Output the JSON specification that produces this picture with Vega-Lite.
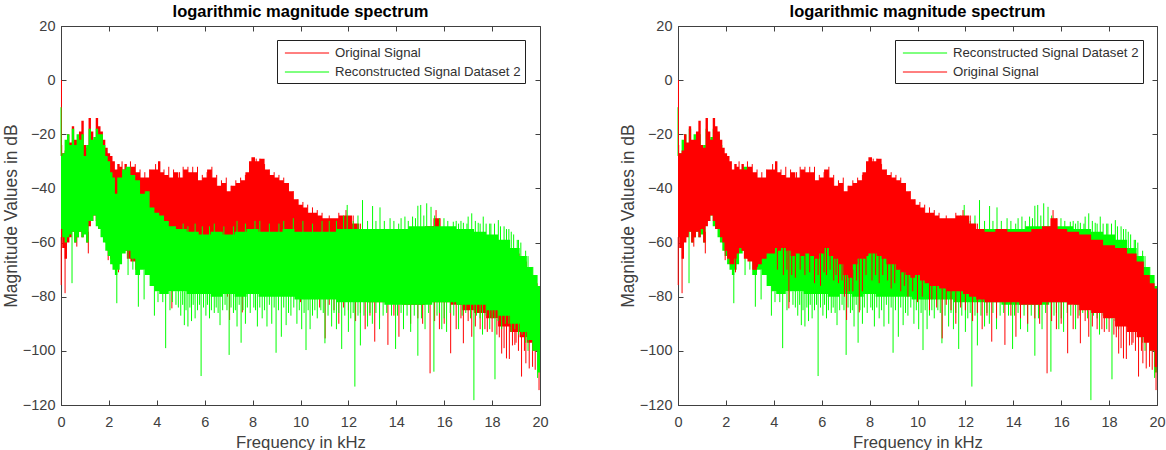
{
"$schema":"https://vega.github.io/schema/vega-lite/v6.json",
"padding":{"left":1,"top":3,"right":0,"bottom":0},
"background":"white",
"spacing":69,
"config":{"view":{"stroke":"#404040","strokeWidth":1},"font":"Liberation Sans",
"axis":{"grid":false,"tickSize":-5,"tickColor":"#404040","domainColor":"#404040","labelColor":"#404040","titleColor":"#404040","labelFont":"Liberation Sans","titleFont":"Liberation Sans","labelFontSize":14.5,"titleFontWeight":"normal","labelFlush":false,"labelOverlap":false},
"title":{"font":"Liberation Sans","fontSize":16.5,"fontWeight":"bold","color":"#000000","offset":-2},
"legend":{"orient":"none","labelFont":"Liberation Sans","labelFontSize":13.2,"labelColor":"#303030","strokeColor":"#202020","fillColor":"white","padding":4,"title":null,"symbolType":"M-2.6,0H2.6","symbolSize":289,"symbolStrokeWidth":1,"symbolFillColor":"transparent","symbolOffset":17,"labelOffset":19,"rowPadding":3,"labelLimit":300}},
"datasets":{
"origEnv":[{"f":0,"hi":-24,"lo":-58},{"f":0.1,"hi":-27,"lo":-62},{"f":0.2,"hi":-26,"lo":-66},{"f":0.3,"hi":-20,"lo":-60},{"f":0.4,"hi":-23,"lo":-58},{"f":0.5,"hi":-17,"lo":-56},{"f":0.6,"hi":-22,"lo":-60},{"f":0.7,"hi":-22,"lo":-58},{"f":0.8,"hi":-19,"lo":-56},{"f":0.9,"hi":-15,"lo":-58},{"f":1,"hi":-24,"lo":-55},{"f":1.1,"hi":-25,"lo":-60},{"f":1.2,"hi":-14,"lo":-54},{"f":1.3,"hi":-19,"lo":-52},{"f":1.4,"hi":-22,"lo":-50},{"f":1.5,"hi":-14,"lo":-52},{"f":1.6,"hi":-17,"lo":-55},{"f":1.7,"hi":-19,"lo":-55},{"f":1.8,"hi":-22,"lo":-58},{"f":1.9,"hi":-25,"lo":-60},{"f":2,"hi":-27,"lo":-63},{"f":2.1,"hi":-28,"lo":-66},{"f":2.2,"hi":-30,"lo":-68},{"f":2.3,"hi":-33,"lo":-68},{"f":2.4,"hi":-31,"lo":-66},{"f":2.5,"hi":-32,"lo":-64},{"f":2.6,"hi":-33,"lo":-62},{"f":2.7,"hi":-31,"lo":-63},{"f":2.8,"hi":-33,"lo":-66},{"f":3,"hi":-32,"lo":-67},{"f":3.2,"hi":-34,"lo":-70},{"f":3.4,"hi":-36,"lo":-68},{"f":3.6,"hi":-36,"lo":-66},{"f":3.8,"hi":-33,"lo":-64},{"f":4,"hi":-33,"lo":-64},{"f":4.1,"hi":-30,"lo":-62},{"f":4.2,"hi":-34,"lo":-63},{"f":4.4,"hi":-35,"lo":-62},{"f":4.6,"hi":-36,"lo":-63},{"f":4.8,"hi":-34,"lo":-65},{"f":5,"hi":-36,"lo":-64},{"f":5.2,"hi":-33,"lo":-65},{"f":5.4,"hi":-34,"lo":-64},{"f":5.6,"hi":-34,"lo":-65},{"f":5.8,"hi":-37,"lo":-66},{"f":6,"hi":-36,"lo":-64},{"f":6.2,"hi":-33,"lo":-62},{"f":6.4,"hi":-36,"lo":-65},{"f":6.6,"hi":-39,"lo":-66},{"f":6.8,"hi":-38,"lo":-68},{"f":7,"hi":-41,"lo":-72},{"f":7.2,"hi":-39,"lo":-73},{"f":7.4,"hi":-38,"lo":-68},{"f":7.6,"hi":-37,"lo":-66},{"f":7.8,"hi":-34,"lo":-66},{"f":7.9,"hi":-30,"lo":-65},{"f":8,"hi":-28.5,"lo":-64},{"f":8.2,"hi":-30,"lo":-64},{"f":8.4,"hi":-29,"lo":-65},{"f":8.6,"hi":-33,"lo":-66},{"f":8.8,"hi":-35,"lo":-68},{"f":9,"hi":-36,"lo":-68},{"f":9.2,"hi":-37,"lo":-70},{"f":9.4,"hi":-38,"lo":-71},{"f":9.6,"hi":-41,"lo":-72},{"f":9.8,"hi":-44,"lo":-73},{"f":10,"hi":-46,"lo":-72},{"f":10.2,"hi":-47,"lo":-74},{"f":10.4,"hi":-49,"lo":-75},{"f":10.6,"hi":-49,"lo":-76},{"f":10.8,"hi":-50,"lo":-76},{"f":11,"hi":-51,"lo":-77},{"f":11.4,"hi":-51,"lo":-78},{"f":11.8,"hi":-50,"lo":-78},{"f":12,"hi":-50,"lo":-79},{"f":12.3,"hi":-53,"lo":-80},{"f":12.6,"hi":-55,"lo":-81},{"f":13,"hi":-56,"lo":-82},{"f":13.5,"hi":-55,"lo":-82},{"f":14,"hi":-56,"lo":-82},{"f":14.5,"hi":-56,"lo":-83},{"f":15,"hi":-55,"lo":-83},{"f":15.4,"hi":-54,"lo":-82},{"f":15.7,"hi":-51,"lo":-82},{"f":16,"hi":-55,"lo":-82},{"f":16.5,"hi":-56,"lo":-83},{"f":17,"hi":-57,"lo":-85},{"f":17.5,"hi":-59,"lo":-86},{"f":18,"hi":-61,"lo":-88},{"f":18.5,"hi":-62,"lo":-91},{"f":19,"hi":-64,"lo":-93},{"f":19.3,"hi":-67,"lo":-95},{"f":19.6,"hi":-72,"lo":-97},{"f":19.8,"hi":-75,"lo":-100},{"f":20,"hi":-77,"lo":-106}],
"reconEnv":[{"f":0,"hi":-28,"lo":-55},{"f":0.1,"hi":-27,"lo":-58},{"f":0.2,"hi":-22,"lo":-60},{"f":0.3,"hi":-20,"lo":-58},{"f":0.4,"hi":-24,"lo":-57},{"f":0.5,"hi":-18,"lo":-56},{"f":0.6,"hi":-24,"lo":-60},{"f":0.7,"hi":-20,"lo":-58},{"f":0.8,"hi":-22,"lo":-56},{"f":0.9,"hi":-20,"lo":-58},{"f":1,"hi":-28,"lo":-57},{"f":1.1,"hi":-24,"lo":-60},{"f":1.2,"hi":-18,"lo":-52},{"f":1.3,"hi":-22,"lo":-52},{"f":1.4,"hi":-21,"lo":-50},{"f":1.5,"hi":-18,"lo":-54},{"f":1.6,"hi":-20,"lo":-55},{"f":1.7,"hi":-20,"lo":-58},{"f":1.8,"hi":-24,"lo":-60},{"f":1.9,"hi":-28,"lo":-63},{"f":2,"hi":-30,"lo":-65},{"f":2.1,"hi":-34,"lo":-68},{"f":2.2,"hi":-36,"lo":-70},{"f":2.3,"hi":-42,"lo":-72},{"f":2.4,"hi":-36,"lo":-70},{"f":2.5,"hi":-36,"lo":-68},{"f":2.6,"hi":-33,"lo":-64},{"f":2.8,"hi":-32,"lo":-63},{"f":3,"hi":-35,"lo":-66},{"f":3.2,"hi":-37,"lo":-72},{"f":3.4,"hi":-42,"lo":-70},{"f":3.6,"hi":-41,"lo":-72},{"f":3.8,"hi":-47,"lo":-76},{"f":4,"hi":-49,"lo":-78},{"f":4.2,"hi":-50,"lo":-79},{"f":4.4,"hi":-52,"lo":-79},{"f":4.6,"hi":-54,"lo":-78},{"f":5,"hi":-55,"lo":-78},{"f":5.5,"hi":-56,"lo":-79},{"f":6,"hi":-57,"lo":-79},{"f":6.5,"hi":-56,"lo":-80},{"f":7,"hi":-57,"lo":-79},{"f":7.5,"hi":-56,"lo":-80},{"f":8,"hi":-55,"lo":-79},{"f":8.5,"hi":-56,"lo":-80},{"f":9,"hi":-56,"lo":-80},{"f":9.5,"hi":-55,"lo":-80},{"f":10,"hi":-56,"lo":-81},{"f":11,"hi":-56,"lo":-81},{"f":12,"hi":-55,"lo":-82},{"f":13,"hi":-55,"lo":-82},{"f":14,"hi":-55,"lo":-83},{"f":15,"hi":-54,"lo":-83},{"f":16,"hi":-54,"lo":-82},{"f":17,"hi":-55,"lo":-83},{"f":17.5,"hi":-56,"lo":-83},{"f":18,"hi":-57,"lo":-85},{"f":18.5,"hi":-59,"lo":-87},{"f":19,"hi":-62,"lo":-90},{"f":19.3,"hi":-65,"lo":-93},{"f":19.6,"hi":-69,"lo":-96},{"f":19.8,"hi":-72,"lo":-100},{"f":20,"hi":-76,"lo":-108}],
"origSpikes":[{"f":0.02,"hi":0,"lo":-25},{"f":0.01,"hi":-58,"lo":-75.7},{"f":0.17,"hi":-62,"lo":-78.7},{"f":0.66,"hi":-56,"lo":-61.5},{"f":1.14,"hi":-56,"lo":-64},{"f":1.97,"hi":-60,"lo":-66.5},{"f":2.4,"hi":-66,"lo":-71},{"f":3.16,"hi":-67,"lo":-70},{"f":3.32,"hi":-67,"lo":-69},{"f":4.4,"hi":-62,"lo":-72},{"f":4.63,"hi":-63,"lo":-84.3},{"f":4.9,"hi":-64,"lo":-73},{"f":5.3,"hi":-64,"lo":-72},{"f":5.7,"hi":-65,"lo":-75},{"f":5.95,"hi":-64,"lo":-76},{"f":6.2,"hi":-62,"lo":-72},{"f":6.5,"hi":-65,"lo":-74},{"f":6.7,"hi":-66,"lo":-75},{"f":6.95,"hi":-68,"lo":-80},{"f":7.04,"hi":-70,"lo":-88.6},{"f":7.3,"hi":-70,"lo":-78},{"f":7.57,"hi":-66,"lo":-85.8},{"f":7.7,"hi":-66,"lo":-78},{"f":8.1,"hi":-64,"lo":-74},{"f":8.4,"hi":-65,"lo":-75},{"f":8.9,"hi":-68,"lo":-77},{"f":9.3,"hi":-70,"lo":-78},{"f":9.6,"hi":-72,"lo":-80},{"f":10,"hi":-72,"lo":-82},{"f":10.5,"hi":-75,"lo":-85},{"f":11.03,"hi":-77,"lo":-95.4},{"f":11.6,"hi":-78,"lo":-90},{"f":12.3,"hi":-80,"lo":-89},{"f":12.7,"hi":-81,"lo":-92},{"f":13.1,"hi":-82,"lo":-96.6},{"f":13.65,"hi":-82,"lo":-97.8},{"f":14.11,"hi":-82,"lo":-94.8},{"f":14.6,"hi":-83,"lo":-90},{"f":15.41,"hi":-82,"lo":-108.3},{"f":15.8,"hi":-82,"lo":-92},{"f":16.27,"hi":-82,"lo":-100.9},{"f":16.5,"hi":-83,"lo":-92},{"f":16.8,"hi":-83,"lo":-97.2},{"f":17.15,"hi":-85,"lo":-94.8},{"f":17.5,"hi":-86,"lo":-92},{"f":17.8,"hi":-86,"lo":-93},{"f":18.2,"hi":-88,"lo":-94},{"f":18.4,"hi":-88,"lo":-101},{"f":18.5,"hi":-90,"lo":-99},{"f":18.6,"hi":-90,"lo":-102.8},{"f":18.72,"hi":-90,"lo":-103},{"f":18.85,"hi":-91,"lo":-98},{"f":18.95,"hi":-91,"lo":-97.8},{"f":19.1,"hi":-93,"lo":-100},{"f":19.23,"hi":-93,"lo":-109.5},{"f":19.41,"hi":-95,"lo":-104.6},{"f":19.55,"hi":-95,"lo":-106.5},{"f":19.69,"hi":-97,"lo":-105.9},{"f":19.8,"hi":-100,"lo":-107},{"f":19.96,"hi":-104,"lo":-114.5},
{"f":2.55,"hi":-30,"lo":-40},{"f":2.9,"hi":-30,"lo":-40},{"f":3.1,"hi":-31,"lo":-40},{"f":3.3,"hi":-33,"lo":-40},{"f":3.5,"hi":-34,"lo":-40},{"f":3.7,"hi":-33,"lo":-40},{"f":3.95,"hi":-31,"lo":-40},{"f":4.3,"hi":-33,"lo":-40},{"f":4.5,"hi":-32,"lo":-40},{"f":4.7,"hi":-33,"lo":-40},{"f":4.95,"hi":-34,"lo":-40},{"f":5.1,"hi":-32,"lo":-40},{"f":5.3,"hi":-32,"lo":-40},{"f":5.5,"hi":-32,"lo":-40},{"f":5.7,"hi":-32,"lo":-40},{"f":5.9,"hi":-35,"lo":-40},{"f":6.1,"hi":-34,"lo":-40},{"f":6.3,"hi":-32,"lo":-40},{"f":6.5,"hi":-35,"lo":-40},{"f":6.7,"hi":-37,"lo":-42},{"f":6.9,"hi":-36,"lo":-42},{"f":7.1,"hi":-39,"lo":-44},{"f":7.3,"hi":-37,"lo":-42},{"f":7.5,"hi":-36,"lo":-42},{"f":7.7,"hi":-35,"lo":-42},{"f":8.15,"hi":-29,"lo":-40},{"f":8.3,"hi":-29,"lo":-40},{"f":8.5,"hi":-31,"lo":-40},{"f":8.7,"hi":-33,"lo":-40},{"f":8.9,"hi":-34,"lo":-40},{"f":9.1,"hi":-35,"lo":-40},{"f":9.3,"hi":-36,"lo":-42},{"f":9.5,"hi":-38,"lo":-44},{"f":9.7,"hi":-41,"lo":-46},{"f":9.9,"hi":-44,"lo":-50},{"f":10.1,"hi":-45,"lo":-50},{"f":10.3,"hi":-46,"lo":-52},{"f":10.5,"hi":-47,"lo":-52},{"f":10.7,"hi":-48,"lo":-54},{"f":10.9,"hi":-49,"lo":-54},{"f":11.2,"hi":-50,"lo":-54},{"f":11.6,"hi":-49,"lo":-54},{"f":11.9,"hi":-48,"lo":-54},{"f":12.2,"hi":-50,"lo":-56},{"f":12.5,"hi":-53,"lo":-58},{"f":15.66,"hi":-48,"lo":-58},
{"f":4.15,"hi":-62,"lo":-70},{"f":4.55,"hi":-62,"lo":-70},{"f":4.75,"hi":-62,"lo":-72},{"f":5.1,"hi":-62,"lo":-70},{"f":5.5,"hi":-62,"lo":-71},{"f":5.85,"hi":-62,"lo":-72},{"f":6.1,"hi":-62,"lo":-71},{"f":6.35,"hi":-62,"lo":-70},{"f":6.6,"hi":-62,"lo":-72},{"f":6.85,"hi":-62,"lo":-74},{"f":7.15,"hi":-62,"lo":-78},{"f":7.45,"hi":-62,"lo":-74},{"f":7.85,"hi":-62,"lo":-72},{"f":8.25,"hi":-62,"lo":-72},{"f":8.55,"hi":-62,"lo":-72},{"f":8.75,"hi":-62,"lo":-74},{"f":9.05,"hi":-62,"lo":-75},{"f":9.45,"hi":-62,"lo":-76},{"f":9.8,"hi":-62,"lo":-78},{"f":10.2,"hi":-70,"lo":-80},{"f":10.6,"hi":-70,"lo":-81},{"f":10.8,"hi":-70,"lo":-84},{"f":11.2,"hi":-70,"lo":-83},{"f":11.4,"hi":-70,"lo":-85},{"f":11.8,"hi":-70,"lo":-84},{"f":12,"hi":-70,"lo":-85},{"f":12.5,"hi":-70,"lo":-86},{"f":12.9,"hi":-70,"lo":-87},{"f":13.3,"hi":-70,"lo":-88},{"f":13.9,"hi":-70,"lo":-87},{"f":14.3,"hi":-70,"lo":-88},{"f":14.9,"hi":-70,"lo":-88},{"f":15.1,"hi":-70,"lo":-90},{"f":15.6,"hi":-70,"lo":-89},{"f":16,"hi":-70,"lo":-90},{"f":16.7,"hi":-70,"lo":-88},{"f":17,"hi":-70,"lo":-89},{"f":17.3,"hi":-70,"lo":-91},{"f":17.7,"hi":-70,"lo":-92},{"f":18,"hi":-70,"lo":-93},{"f":18.3,"hi":-70,"lo":-95},{"f":19,"hi":-80,"lo":-97},{"f":19.35,"hi":-80,"lo":-100}],
"reconSpikes":[{"f":0,"hi":-10,"lo":-28},{"f":0.46,"hi":-56,"lo":-75},{"f":2.33,"hi":-70,"lo":-82.4},{"f":2.8,"hi":-63,"lo":-72},{"f":3,"hi":-66,"lo":-70},{"f":3.23,"hi":-70,"lo":-83.7},{"f":3.47,"hi":-70,"lo":-81},{"f":3.75,"hi":-72,"lo":-75},{"f":3.9,"hi":-76,"lo":-87},{"f":4.05,"hi":-78,"lo":-82},{"f":4.25,"hi":-78,"lo":-82},{"f":4.37,"hi":-78,"lo":-99},{"f":4.55,"hi":-78,"lo":-85},{"f":4.8,"hi":-78,"lo":-83},{"f":5,"hi":-78,"lo":-87},{"f":5.15,"hi":-78,"lo":-90.5},{"f":5.3,"hi":-78,"lo":-91},{"f":5.45,"hi":-78,"lo":-89},{"f":5.6,"hi":-78,"lo":-88},{"f":5.85,"hi":-78,"lo":-109.3},{"f":6.05,"hi":-78,"lo":-87},{"f":6.2,"hi":-78,"lo":-88},{"f":6.4,"hi":-78,"lo":-86},{"f":6.64,"hi":-78,"lo":-90.5},{"f":6.75,"hi":-78,"lo":-85},{"f":7.02,"hi":-78,"lo":-101.5},{"f":7.2,"hi":-78,"lo":-86},{"f":7.35,"hi":-78,"lo":-91},{"f":7.52,"hi":-78,"lo":-97},{"f":7.7,"hi":-78,"lo":-90},{"f":7.9,"hi":-78,"lo":-86},{"f":8.2,"hi":-78,"lo":-91},{"f":8.4,"hi":-78,"lo":-88},{"f":8.6,"hi":-78,"lo":-91},{"f":8.8,"hi":-78,"lo":-90},{"f":8.98,"hi":-78,"lo":-100.7},{"f":9.2,"hi":-78,"lo":-94.8},{"f":9.4,"hi":-78,"lo":-90.5},{"f":9.6,"hi":-78,"lo":-87},{"f":9.85,"hi":-78,"lo":-90},{"f":10.05,"hi":-78,"lo":-92},{"f":10.23,"hi":-78,"lo":-99.7},{"f":10.4,"hi":-78,"lo":-92},{"f":10.7,"hi":-78,"lo":-88},{"f":11.02,"hi":-78,"lo":-97.2},{"f":11.3,"hi":-78,"lo":-91},{"f":11.5,"hi":-78,"lo":-92},{"f":11.72,"hi":-78,"lo":-99.3},{"f":12,"hi":-78,"lo":-93},{"f":12.27,"hi":-78,"lo":-113.2},{"f":12.5,"hi":-78,"lo":-98},{"f":12.8,"hi":-78,"lo":-91},{"f":13,"hi":-78,"lo":-90},{"f":13.3,"hi":-78,"lo":-92},{"f":13.97,"hi":-78,"lo":-99.3},{"f":14.3,"hi":-78,"lo":-92},{"f":14.6,"hi":-78,"lo":-93},{"f":14.9,"hi":-78,"lo":-101.8},{"f":15.2,"hi":-78,"lo":-92},{"f":15.57,"hi":-78,"lo":-107.7},{"f":15.9,"hi":-78,"lo":-92},{"f":16.1,"hi":-78,"lo":-93},{"f":16.6,"hi":-78,"lo":-92},{"f":17.24,"hi":-78,"lo":-118.2},{"f":17.6,"hi":-80,"lo":-94},{"f":17.9,"hi":-80,"lo":-92},{"f":18.12,"hi":-80,"lo":-110.5},{"f":18.4,"hi":-85,"lo":-92},{"f":18.8,"hi":-85,"lo":-93},{"f":19.1,"hi":-88,"lo":-94},{"f":19.5,"hi":-92,"lo":-100},{"f":19.9,"hi":-100,"lo":-110},{"f":11.95,"hi":-46.1,"lo":-60},{"f":12.59,"hi":-44.3,"lo":-60},{"f":13.01,"hi":-46.5,"lo":-60},{"f":13.32,"hi":-47,"lo":-60},{"f":13.74,"hi":-51,"lo":-60},{"f":14.36,"hi":-50.4,"lo":-60},{"f":14.68,"hi":-50.4,"lo":-60},{"f":14.9,"hi":-46.4,"lo":-60},{"f":15.02,"hi":-46.1,"lo":-60},{"f":15.27,"hi":-45.5,"lo":-60},{"f":15.45,"hi":-46.8,"lo":-60},{"f":15.99,"hi":-51,"lo":-60},{"f":16.38,"hi":-52.3,"lo":-60},{"f":16.8,"hi":-52.7,"lo":-60},{"f":17,"hi":-50.4,"lo":-60},{"f":17.15,"hi":-49.2,"lo":-60},{"f":17.42,"hi":-52.7,"lo":-60},{"f":17.63,"hi":-50.4,"lo":-60},{"f":18.26,"hi":-51.7,"lo":-60},{"f":12.8,"hi":-52,"lo":-60},{"f":13.5,"hi":-52,"lo":-60},{"f":14.1,"hi":-53,"lo":-60},{"f":14.5,"hi":-52,"lo":-60},{"f":16.6,"hi":-53,"lo":-60},{"f":17.9,"hi":-53,"lo":-60},{"f":18.5,"hi":-54,"lo":-62},{"f":18.8,"hi":-56,"lo":-62},{"f":19.1,"hi":-59,"lo":-65},
{"f":4.65,"hi":-70,"lo":-82},{"f":4.9,"hi":-70,"lo":-84},{"f":5.08,"hi":-70,"lo":-83},{"f":5.22,"hi":-70,"lo":-85},{"f":5.38,"hi":-70,"lo":-84},{"f":5.52,"hi":-70,"lo":-83},{"f":5.7,"hi":-70,"lo":-85},{"f":5.78,"hi":-70,"lo":-83},{"f":5.95,"hi":-70,"lo":-84},{"f":6.12,"hi":-70,"lo":-83},{"f":6.28,"hi":-70,"lo":-85},{"f":6.48,"hi":-70,"lo":-84},{"f":6.56,"hi":-70,"lo":-86},{"f":6.85,"hi":-70,"lo":-83},{"f":6.93,"hi":-70,"lo":-85},{"f":7.1,"hi":-70,"lo":-84},{"f":7.28,"hi":-70,"lo":-85},{"f":7.44,"hi":-70,"lo":-83},{"f":7.6,"hi":-70,"lo":-85},{"f":7.78,"hi":-70,"lo":-84},{"f":8.05,"hi":-70,"lo":-84},{"f":8.12,"hi":-70,"lo":-85},{"f":8.3,"hi":-70,"lo":-84},{"f":8.5,"hi":-70,"lo":-85},{"f":8.7,"hi":-70,"lo":-83},{"f":8.9,"hi":-70,"lo":-84},{"f":9.08,"hi":-70,"lo":-85},{"f":9.3,"hi":-70,"lo":-84},{"f":9.5,"hi":-70,"lo":-86},{"f":9.72,"hi":-70,"lo":-84},{"f":9.95,"hi":-70,"lo":-85},{"f":10.15,"hi":-70,"lo":-86},{"f":10.32,"hi":-70,"lo":-85},{"f":10.5,"hi":-70,"lo":-87},{"f":10.6,"hi":-70,"lo":-85},{"f":10.85,"hi":-70,"lo":-85},{"f":10.95,"hi":-70,"lo":-86},{"f":11.15,"hi":-70,"lo":-87},{"f":11.4,"hi":-70,"lo":-86},{"f":11.6,"hi":-70,"lo":-86},{"f":11.85,"hi":-70,"lo":-87},{"f":12.1,"hi":-70,"lo":-88},{"f":12.2,"hi":-70,"lo":-86},{"f":12.4,"hi":-70,"lo":-87},{"f":12.65,"hi":-70,"lo":-87},{"f":12.9,"hi":-70,"lo":-86},{"f":13.15,"hi":-70,"lo":-86},{"f":13.45,"hi":-70,"lo":-87},{"f":13.6,"hi":-70,"lo":-86},{"f":13.8,"hi":-70,"lo":-87},{"f":14.05,"hi":-70,"lo":-87},{"f":14.2,"hi":-70,"lo":-86},{"f":14.45,"hi":-70,"lo":-87},{"f":14.75,"hi":-70,"lo":-87},{"f":15.05,"hi":-70,"lo":-88},{"f":15.35,"hi":-70,"lo":-86},{"f":15.7,"hi":-70,"lo":-87},{"f":15.8,"hi":-70,"lo":-86},{"f":16,"hi":-70,"lo":-88},{"f":16.25,"hi":-70,"lo":-86},{"f":16.4,"hi":-70,"lo":-87},{"f":16.75,"hi":-70,"lo":-87},{"f":16.9,"hi":-70,"lo":-86},{"f":17.1,"hi":-70,"lo":-88},{"f":17.35,"hi":-70,"lo":-87},{"f":17.5,"hi":-70,"lo":-88},{"f":17.75,"hi":-70,"lo":-87},{"f":18,"hi":-70,"lo":-88},{"f":18.25,"hi":-70,"lo":-89},{"f":18.55,"hi":-70,"lo":-90},{"f":18.7,"hi":-70,"lo":-90},{"f":18.95,"hi":-80,"lo":-92},{"f":19.25,"hi":-80,"lo":-94},{"f":19.4,"hi":-80,"lo":-97},{"f":19.7,"hi":-80,"lo":-100},
{"f":5.1,"hi":-53,"lo":-60},{"f":5.3,"hi":-54,"lo":-60},{"f":5.6,"hi":-53,"lo":-60},{"f":5.9,"hi":-54,"lo":-60},{"f":6.2,"hi":-54,"lo":-60},{"f":6.4,"hi":-53,"lo":-60},{"f":6.8,"hi":-54,"lo":-60},{"f":7.2,"hi":-54,"lo":-60},{"f":7.35,"hi":-52,"lo":-60},{"f":7.7,"hi":-53,"lo":-60},{"f":8.1,"hi":-52,"lo":-60},{"f":8.3,"hi":-52,"lo":-60},{"f":8.7,"hi":-53,"lo":-60},{"f":9.1,"hi":-53,"lo":-60},{"f":9.3,"hi":-52,"lo":-60},{"f":9.7,"hi":-51,"lo":-60},{"f":10.1,"hi":-52,"lo":-60},{"f":10.5,"hi":-53,"lo":-60},{"f":10.9,"hi":-52,"lo":-60},{"f":11.2,"hi":-52,"lo":-60},{"f":11.5,"hi":-52,"lo":-60},{"f":11.8,"hi":-50,"lo":-60},{"f":12.2,"hi":-52,"lo":-60},{"f":12.4,"hi":-50,"lo":-60},{"f":13.15,"hi":-52,"lo":-60},{"f":13.9,"hi":-52,"lo":-60},{"f":14.2,"hi":-51,"lo":-60},{"f":14.8,"hi":-51,"lo":-60},{"f":15.15,"hi":-50,"lo":-60},{"f":15.6,"hi":-50,"lo":-60},{"f":15.8,"hi":-51,"lo":-60},{"f":16.15,"hi":-52,"lo":-60},{"f":16.5,"hi":-52,"lo":-60},{"f":16.7,"hi":-52,"lo":-60},{"f":16.95,"hi":-53,"lo":-60},{"f":17.3,"hi":-52,"lo":-60},{"f":17.5,"hi":-53,"lo":-60},{"f":17.75,"hi":-53,"lo":-60},{"f":17.95,"hi":-53,"lo":-60},{"f":18.1,"hi":-53,"lo":-60},{"f":18.35,"hi":-54,"lo":-60},{"f":18.6,"hi":-55,"lo":-62},{"f":18.7,"hi":-55,"lo":-62},{"f":18.9,"hi":-57,"lo":-64},{"f":19.05,"hi":-59,"lo":-66},{"f":19.2,"hi":-60,"lo":-68},{"f":19.4,"hi":-63,"lo":-70},{"f":19.5,"hi":-65,"lo":-72},{"f":19.7,"hi":-69,"lo":-76}]
},
"hconcat":[
{"width":479,"height":379,"title":"logarithmic magnitude spectrum",
"resolve":{"axis":{"x":"independent","y":"independent"}},
"layer":[
{"encoding":{
"x":{"field":"f","type":"quantitative","scale":{"domain":[0,20],"nice":false},"axis":{"values":[0,2,4,6,8,10,12,14,16,18,20],"title":"Frequency in kHz","titlePadding":6,"labelPadding":15,"titleFontSize":16.7}},
"y":{"field":"hi","type":"quantitative","scale":{"domain":[-120,20],"nice":false},"axis":{"values":[-120,-100,-80,-60,-40,-20,0,20],"title":"Magnitude Values in dB","titlePadding":2,"labelPadding":11,"titleFontSize":17.5}},
"y2":{"field":"lo"}},
"layer":[
{"data":{"name":"origEnv"},"mark":{"type":"area","interpolate":"step","color":"#ff0000"}},
{"data":{"name":"origSpikes"},"mark":{"type":"rule","strokeWidth":1},"encoding":{"color":{"datum":"Original Signal","type":"nominal","scale":{"domain":["Original Signal","Reconstructed Signal Dataset 2"],"range":["#ff0000","#00ff00"]},"legend":{"legendX":216,"legendY":14}}}},
{"data":{"name":"reconEnv"},"mark":{"type":"area","interpolate":"step","color":"#00ff00"}},
{"data":{"name":"reconSpikes"},"mark":{"type":"rule","strokeWidth":1},"encoding":{"color":{"datum":"Reconstructed Signal Dataset 2","type":"nominal"}}}
]},
{"data":{"name":"reconEnv"},"mark":{"type":"rule","opacity":0},"encoding":{
"x":{"field":"f","type":"quantitative","axis":{"orient":"top","values":[0,2,4,6,8,10,12,14,16,18,20],"labels":false,"title":null,"domain":false}},
"y":{"field":"hi","type":"quantitative","axis":{"orient":"right","values":[-120,-100,-80,-60,-40,-20,0,20],"labels":false,"title":null,"domain":false}}}}
]},
{"width":479,"height":379,"title":"logarithmic magnitude spectrum",
"resolve":{"axis":{"x":"independent","y":"independent"}},
"layer":[
{"encoding":{
"x":{"field":"f","type":"quantitative","scale":{"domain":[0,20],"nice":false},"axis":{"values":[0,2,4,6,8,10,12,14,16,18,20],"title":"Frequency in kHz","titlePadding":6,"labelPadding":15,"titleFontSize":16.7}},
"y":{"field":"hi","type":"quantitative","scale":{"domain":[-120,20],"nice":false},"axis":{"values":[-120,-100,-80,-60,-40,-20,0,20],"title":"Magnitude Values in dB","titlePadding":2,"labelPadding":11,"titleFontSize":17.5}},
"y2":{"field":"lo"}},
"layer":[
{"data":{"name":"reconEnv"},"mark":{"type":"area","interpolate":"step","color":"#00ff00"}},
{"data":{"name":"reconSpikes"},"mark":{"type":"rule","strokeWidth":1},"encoding":{"color":{"datum":"Reconstructed Signal Dataset 2","type":"nominal","scale":{"domain":["Reconstructed Signal Dataset 2","Original Signal"],"range":["#00ff00","#ff0000"]},"legend":{"legendX":217,"legendY":14}}}},
{"data":{"name":"origEnv"},"mark":{"type":"area","interpolate":"step","color":"#ff0000"}},
{"data":{"name":"origSpikes"},"mark":{"type":"rule","strokeWidth":1},"encoding":{"color":{"datum":"Original Signal","type":"nominal"}}}
]},
{"data":{"name":"origEnv"},"mark":{"type":"rule","opacity":0},"encoding":{
"x":{"field":"f","type":"quantitative","axis":{"orient":"top","values":[0,2,4,6,8,10,12,14,16,18,20],"labels":false,"title":null,"domain":false}},
"y":{"field":"hi","type":"quantitative","axis":{"orient":"right","values":[-120,-100,-80,-60,-40,-20,0,20],"labels":false,"title":null,"domain":false}}}}
]}
],
"resolve":{"scale":{"color":"independent"}}
}
